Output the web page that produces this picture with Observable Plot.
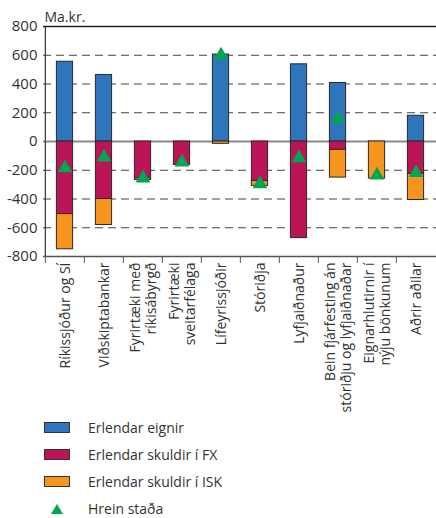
<!DOCTYPE html>
<html>
<head>
<meta charset="utf-8">
<script src="https://cdn.jsdelivr.net/npm/d3@7"></script>
<script src="https://cdn.jsdelivr.net/npm/@observablehq/plot@0.6"></script>
<style>
  html, body { margin: 0; padding: 0; background: #fff; }
  body { width: 436px; height: 518px; overflow: hidden; font-family: "Open Sans", sans-serif; color: #333; }
  #chart svg { display: block; }
  #legend { position: relative; margin-left: 44px; margin-top: -4px; }
  .row { display: flex; align-items: center; height: 27px; font-size: 14px; line-height: 16px; }
  .sw { width: 24px; height: 9px; border: 1px solid #333; margin-right: 18px; }
  .tri { width: 26px; margin-right: 18px; display: flex; justify-content: center; }
</style>
</head>
<body>
<div id="chart"></div>
<div id="legend"></div>
<script>
const categories = [
  "Ríkissjóður og SÍ",
  "Viðskiptabankar",
  "Fyrirtæki með\nríkisábyrgð",
  "Fyrirtæki\nsveitarfélaga",
  "Lífeyrissjóðir",
  "Stóriðja",
  "Lyfjaiðnaður",
  "Bein fjárfesting án\nstóriðju og lyfjaiðnaðar",
  "Eignarhlutirnir í\nnýju bönkunum",
  "Aðrir aðilar"
];
const series = ["Erlendar eignir", "Erlendar skuldir í FX", "Erlendar skuldir í ISK"];
const colors = ["#2e75bb", "#bb1457", "#f7941e"];
const eignir     = [555, 463, 0, 0, 605, 0, 537, 407, 0, 179];
const skuldirFX  = [-505, -400, -256, -163, 0, -275, -672, -58, 0, -225];
const skuldirISK = [-245, -181, -12, 0, -16, -34, 0, -193, -258, -182];
const hreinStada = [-185, -110, -255, -145, 600, -295, -115, 158, -235, -218];
const yTicks = [-800, -600, -400, -200, 0, 200, 400, 600, 800];
const gridTicks = [-600, -400, -200, 200, 400, 600];

const seriesValues = [eignir, skuldirFX, skuldirISK];
const bars = [];
categories.forEach((c, i) => {
  series.forEach((s, j) => {
    const v = seriesValues[j][i];
    if (v !== 0) bars.push({cat: c, series: s, value: v});
  });
});
const net = categories.map((c, i) => ({cat: c, value: hreinStada[i]}));

const width = 436, height = 418;
const marginLeft = 43, marginRight = 0, marginTop = 26, marginBottom = 162;
const step = (width - marginLeft - marginRight) / categories.length;
const inset = (step - 16.5) / 2;

const chart = Plot.plot({
  width, height, marginLeft, marginRight, marginTop, marginBottom,
  style: {fontFamily: "Open Sans, sans-serif", fontSize: "14px", color: "#333"},
  x: {domain: categories, padding: 0, axis: null},
  y: {domain: [-800, 800], axis: null},
  color: {domain: series, range: colors},
  marks: [
    Plot.ruleY(gridTicks, {stroke: "#444", strokeWidth: 1.2, strokeDasharray: "8,5"}),
    Plot.ruleY([0], {stroke: "#8a8a8a", strokeWidth: 2}),
    Plot.barY(bars, {
      x: "cat", y: "value", fill: "series", order: series,
      stroke: "#2a2a2a", strokeWidth: 1, insetLeft: inset, insetRight: inset
    }),
    Plot.dot(net, {x: "cat", y: "value", symbol: "triangle", r: 5.5, fill: "#00a651", stroke: "none"}),
    Plot.ruleY([800], {stroke: "#222", strokeWidth: 1.5}),
    Plot.ruleY([-800], {stroke: "#555", strokeWidth: 1.5}),
    Plot.ruleX([categories[0]], {stroke: "#333", strokeWidth: 1.2, dx: -step / 2, y1: -800, y2: 800}),
    Plot.axisY({ticks: yTicks, tickSize: 0, tickPadding: 6, fontSize: 15, label: null, tickFormat: d => String(d)}),
    Plot.axisX({tickSize: 7, tickFormat: () => "", dx: -step / 2, stroke: "#555", label: null}),
    Plot.text(categories, {
      x: d => d, y: -800, text: d => d, rotate: -90, textAnchor: "end", lineAnchor: "middle",
      lineHeight: 1.15, dy: 6, fontSize: 14, fill: "#333"
    }),
    Plot.text(["Ma.kr."], {frameAnchor: "top-left", dy: -14, dx: 1, text: d => d, textAnchor: "start", fontSize: 14, fill: "#333"})
  ]
});
document.getElementById("chart").appendChild(chart);

const legend = document.getElementById("legend");
series.forEach((s, j) => {
  const row = document.createElement("div");
  row.className = "row";
  row.innerHTML = `<div class="sw" style="background:${colors[j]}"></div><span>${s}</span>`;
  legend.appendChild(row);
});
const trow = document.createElement("div");
trow.className = "row";
trow.innerHTML = `<div class="tri"><svg width="14" height="12"><polygon points="7,1 13,11 1,11" fill="#00a651"/></svg></div><span>Hrein staða</span>`;
legend.appendChild(trow);
</script>
</body>
</html>
